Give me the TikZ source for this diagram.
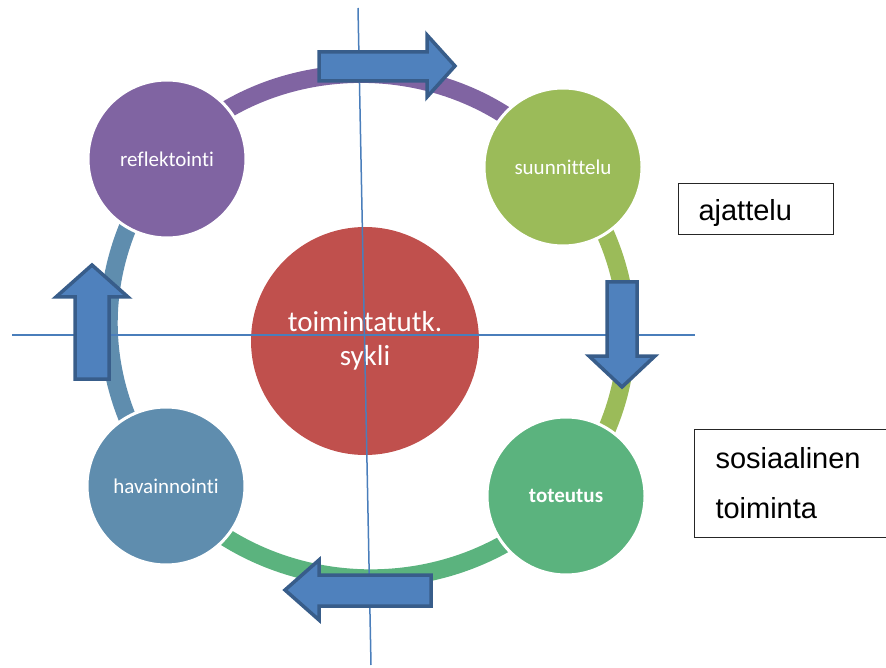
\documentclass[tikz,border=0pt]{standalone}
\usepackage{fontspec}
\setmainfont{Carlito}[Ligatures=NoCommon]
\newfontfamily\arialfont{Liberation Sans}
\usetikzlibrary{backgrounds}
\definecolor{refcol}{HTML}{8064A2}
\definecolor{suncol}{HTML}{9BBB59}
\definecolor{totcol}{HTML}{5BB37E}
\definecolor{havcol}{HTML}{5F8DAE}
\definecolor{midcol}{HTML}{C0504D}
\definecolor{axiscol}{HTML}{4A7EBB}
\definecolor{arrowfill}{HTML}{4F81BD}
\definecolor{arrowline}{HTML}{385D8A}
\tikzset{
	stagenode/.style={circle,draw=white,line width=3pt,minimum size=158pt,inner sep=0pt,text=white,font=\fontsize{21}{25}\selectfont},
	axisline/.style={draw=axiscol,line width=1.5pt},
	blockarrow/.style={fill=arrowfill,draw=arrowline,line width=3.5pt,line join=miter},
	textbox/.style={draw=black!85,line width=1pt,inner ysep=0pt,align=left,anchor=north west,font=\arialfont\fontsize{29}{50}\selectfont}
}
\begin{document}
\begin{tikzpicture}[x=1pt,y=1pt]
	\useasboundingbox (0,0) rectangle (886,-668);
	\clip (0,0) rectangle (886,-668);
	\begin{scope}[every node/.style={stagenode}]
	\node[fill=refcol] (refl) at (167,-159) {reflektointi};
	\node[fill=suncol] (suun) at (563,-167) {suunnittelu};
	\node[fill=totcol,font=\bfseries\fontsize{21}{25}\selectfont] (tot) at (566,-496) {toteutus};
	\node[fill=havcol] (hav) at (166,-486) {havainnointi};
	\end{scope}
	\node[circle,fill=midcol,minimum size=228pt,inner sep=0pt,text=white,align=center,font=\fontsize{29}{34}\selectfont] (sykli) at (365,-341) {toimintatutk.\\sykli};
	\begin{pgfonlayer}{background}
	\begin{scope}[every edge/.style={draw,line width=18pt}]
	\path (refl.center) edge[refcol,bend left=50] (suun.center);
	\path (suun.center) edge[suncol,bend left=40] (tot.center);
	\path (tot.center) edge[totcol,bend left=48] (hav.center);
	\path (hav.center) edge[havcol,bend left=37] (refl.center);
	\end{scope}
	\end{pgfonlayer}
	\coordinate (vtop) at (358,-8);
	\coordinate (vbot) at (371,-665);
	\coordinate (hleft) at (12,-335);
	\coordinate (hright) at (695,-335);
	\draw[axisline] (vtop) -- (vbot);
	\draw[axisline] (hleft) -- (hright);
	\draw[blockarrow] (319,-52) -- (427,-52) -- (427,-35) -- (455,-66) -- (427,-97) -- (427,-81) -- (319,-81) -- cycle;
	\draw[blockarrow] (607,-282) -- (637,-282) -- (637,-356) -- (655,-356) -- (622,-387) -- (589,-356) -- (607,-356) -- cycle;
	\draw[blockarrow] (431,-575) -- (319,-575) -- (319,-560) -- (285,-590) -- (319,-620) -- (319,-606) -- (431,-606) -- cycle;
	\draw[blockarrow] (75,-379) -- (75,-297) -- (56,-297) -- (92,-265) -- (128,-297) -- (109,-297) -- (109,-379) -- cycle;
	\node[textbox,text width=115pt,inner xsep=20pt,minimum height=51pt,text height=29pt,text depth=6pt] (ajattelu) at (678,-183) {ajattelu};
	\node[textbox,text width=190pt,inner xsep=21pt,minimum height=108pt] (sostoim) at (694,-429) {sosiaalinen\\toiminta};
\end{tikzpicture}
\end{document}
